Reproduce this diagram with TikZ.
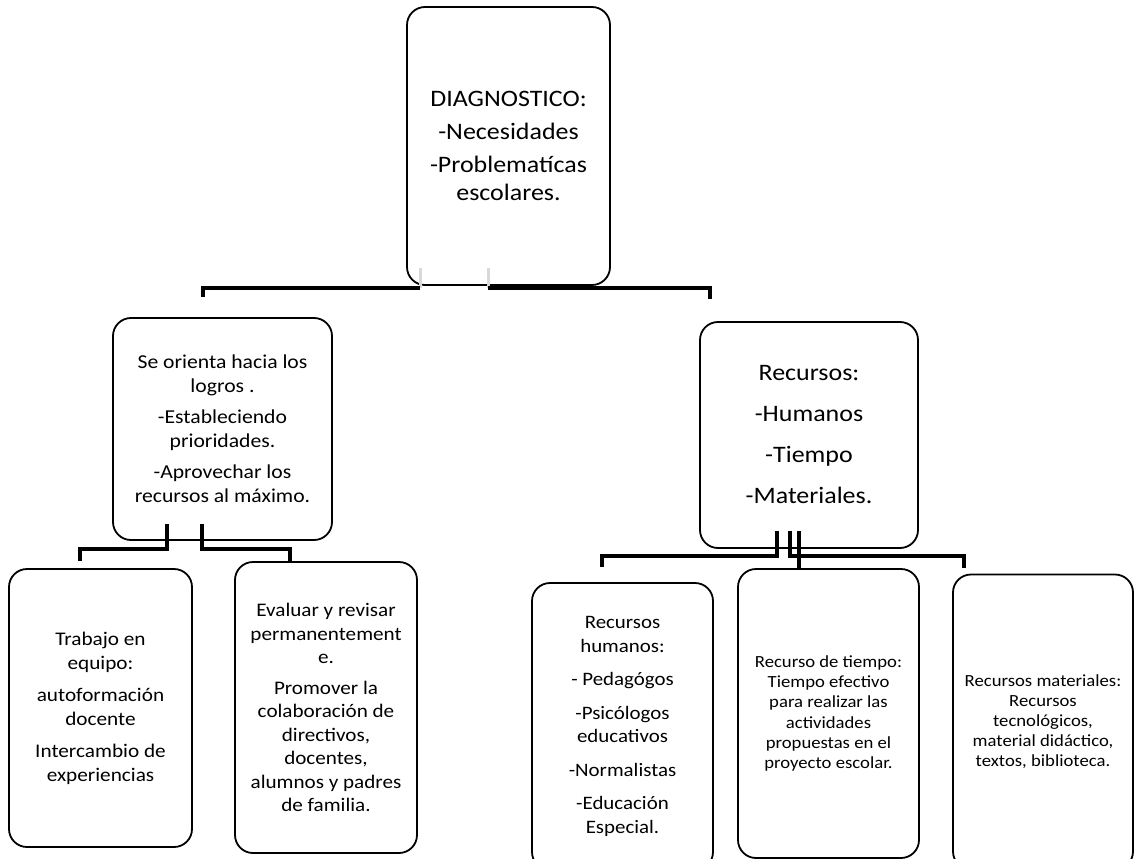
\documentclass[tikz,border=0pt]{standalone}
\usepackage{fontspec}
\setmainfont{Carlito}[FakeStretch=1.1]
\usetikzlibrary{positioning,calc}

\begin{document}
\begin{tikzpicture}[
    x=1pt, y=-1pt,
    box/.style={draw, line width=1.8pt, rounded corners=18pt, align=center, inner sep=0pt, fill=white},
    link/.style={line width=4.5pt},
    stub/.style={line width=3pt, draw=black!15},
    ]
\useasboundingbox (0,0) rectangle (1141,859);

\node[box, minimum width=203pt, minimum height=278pt, font=\fontsize{23.6}{28}\selectfont] at (508.5,146) (diag)
    {DIAGNOSTICO:\\[5pt] -Necesidades\\[5pt] -Problematícas\\escolares.};

\node[box, minimum width=219pt, minimum height=222pt, font=\fontsize{19.7}{24}\selectfont] at (222.5,429) (orienta)
    {Se orienta hacia los\\logros .\\[7pt] -Estableciendo\\prioridades.\\[7pt] -Aprovechar los\\recursos al máximo.};

\node[box, minimum width=218pt, minimum height=226pt, font=\fontsize{23.6}{28}\selectfont] at (809,435) (recursos)
    {Recursos:\\[13pt] -Humanos\\[13pt] -Tiempo\\[13pt] -Materiales.};

\node[box, minimum width=183pt, minimum height=278pt, font=\fontsize{19.3}{24}\selectfont] at (100.5,708) (trabajo)
    {Trabajo en\\equipo:\\[8pt] autoformación\\docente\\[8pt] Intercambio de\\experiencias};

\node[box, minimum width=182pt, minimum height=291pt, font=\fontsize{19.2}{23.5}\selectfont] at (326,707.5) (evaluar)
    {Evaluar y revisar\\permanentement\\e.\\[7pt] Promover la\\colaboración de\\directivos,\\docentes,\\alumnos y padres\\de familia.};

\node[box, minimum width=181pt, minimum height=287pt, font=\fontsize{19}{23.5}\selectfont] at (622.5,726.5) (humanos)
    {Recursos\\humanos:\\[10pt] - Pedagógos\\[10pt] -Psicólogos\\educativos\\[10pt] -Normalistas\\[10pt] -Educación\\Especial.};

\node[box, minimum width=181pt, minimum height=289pt, font=\fontsize{17}{20.3}\selectfont] at (828.5,713.5) (tiempo)
    {Recurso de tiempo:\\Tiempo efectivo\\para realizar las\\actividades\\propuestas en el\\proyecto escolar.};

\node[box, minimum width=180pt, minimum height=295pt, font=\fontsize{17}{20}\selectfont] at (1043,722) (materiales)
    {Recursos materiales:\\Recursos\\tecnológicos,\\material didáctico,\\textos, biblioteca.};

% first level
\draw[stub] ([xshift=-88.5pt,yshift=-2pt]diag.south) -- ++(0,-20);
\draw[stub] ([xshift=-20.5pt,yshift=-2pt]diag.south) -- ++(0,-20);
\draw[link] ([xshift=-88.5pt,yshift=-2pt]diag.south) -| ([xshift=-19.5pt,yshift=20pt]orienta.north);
\draw[link] ([xshift=-20.5pt,yshift=-2pt]diag.south) -| ([xshift=-99pt,yshift=22pt]recursos.north);

% second level
\draw[link] ([xshift=-55.5pt,yshift=17pt]orienta.south) -- ++(0,25) -| ([xshift=-20.5pt,yshift=7pt]trabajo.north);
\draw[link] ([xshift=-20.5pt,yshift=17pt]orienta.south) -- ++(0,25) -| ([xshift=-36pt]evaluar.north);

\draw[link] ([xshift=-32pt,yshift=18pt]recursos.south) -- ++(0,25) -| ([xshift=-20.5pt,yshift=15pt]humanos.north);
\draw[link] ([xshift=-19pt,yshift=18pt]recursos.south) -- ++(0,25) -| ([xshift=-79pt,yshift=6pt]materiales.north);
\draw[link] ([xshift=-10pt,yshift=18pt]recursos.south) -- ([xshift=-29.5pt]tiempo.north);

\end{tikzpicture}
\end{document}
